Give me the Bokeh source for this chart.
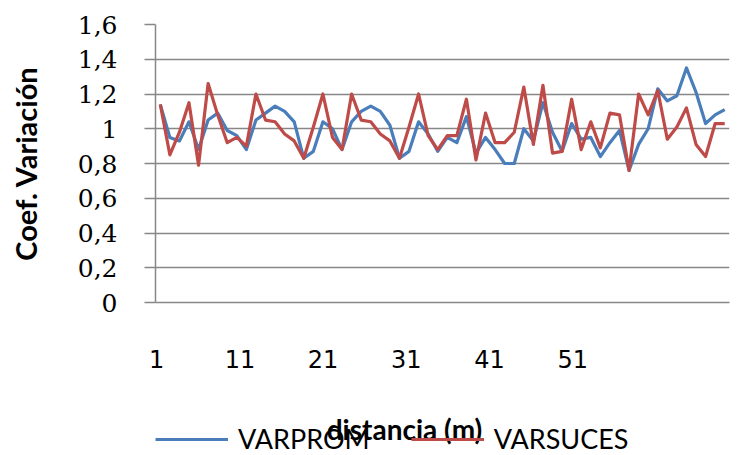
from bokeh.plotting import figure
from bokeh.layouts import column
from bokeh.models import (Range1d, LinearAxis, FixedTicker, Legend, LegendItem, Label)
from bokeh.embed import file_html
from bokeh.resources import INLINE

# ---------------- data ----------------
x_index = list(range(1, 61))
varprom = [1.14, 0.95, 0.93, 1.04, 0.88, 1.05, 1.09, 0.99, 0.96, 0.88,
           1.05, 1.09, 1.13, 1.10, 1.04, 0.83, 0.87, 1.04, 1.00, 0.88,
           1.04, 1.10, 1.13, 1.10, 1.02, 0.83, 0.87, 1.04, 0.97, 0.87,
           0.95, 0.92, 1.07, 0.86, 0.95, 0.88, 0.80, 0.80, 1.00, 0.93,
           1.15, 0.98, 0.87, 1.03, 0.94, 0.95, 0.84, 0.92, 0.99, 0.76,
           0.91, 1.00, 1.23, 1.16, 1.19, 1.35, 1.21, 1.03, 1.08, 1.11]
varsuces = [1.14, 0.85, 0.98, 1.15, 0.79, 1.26, 1.08, 0.92, 0.95, 0.90,
            1.20, 1.05, 1.04, 0.97, 0.93, 0.83, 1.01, 1.20, 0.95, 0.88,
            1.20, 1.05, 1.04, 0.97, 0.93, 0.83, 1.01, 1.20, 0.96, 0.88,
            0.96, 0.96, 1.17, 0.82, 1.09, 0.92, 0.92, 0.98, 1.24, 0.91,
            1.25, 0.86, 0.87, 1.17, 0.88, 1.04, 0.89, 1.09, 1.08, 0.76,
            1.20, 1.08, 1.22, 0.94, 1.01, 1.12, 0.91, 0.84, 1.03, 1.03]
series_names = ["VARPROM", "VARSUCES"]
y_ticks = [0, 0.2, 0.4, 0.6, 0.8, 1, 1.2, 1.4, 1.6]
y_tick_labels = ["0", "0,2", "0,4", "0,6", "0,8", "1", "1,2", "1,4", "1,6"]
x_ticks = [1, 11, 21, 31, 41, 51]
x_tick_labels = ["1", "11", "21", "31", "41", "51"]
label_categories = 69
x_title = "distancia (m)"
y_title = "Coef. Variación"

# ---------------- layout ----------------
W = 741
H1, H2 = 385, 70
B_LEFT, B_RIGHT, B_TOP, B_BOTTOM = 155, 12, 24, 83

GRID = "#878787"
BLUE = "#4A7EBB"
RED = "#BE4B48"

p = figure(width=W, height=H1, output_backend="svg", toolbar_location=None,
           x_range=Range1d(0.5, len(x_index) + 0.5),
           y_range=Range1d(y_ticks[0], y_ticks[-1]),
           x_axis_location=None)
p.min_border_left = B_LEFT
p.min_border_right = B_RIGHT
p.min_border_top = B_TOP
p.min_border_bottom = B_BOTTOM
p.outline_line_color = None
p.background_fill_color = "white"
p.border_fill_color = "white"

# y axis
ya = p.yaxis[0]
ya.ticker = FixedTicker(ticks=y_ticks)
ya.major_label_overrides = {t: l for t, l in zip(y_ticks, y_tick_labels)}
ya.axis_line_color = GRID
ya.axis_line_width = 1.5
ya.major_tick_line_color = GRID
ya.major_tick_line_width = 1.5
ya.major_tick_out = 11
ya.major_tick_in = 0
ya.minor_tick_line_color = None
ya.major_label_standoff = 27
ya.major_label_text_font = "DejaVu Serif"
ya.major_label_text_font_size = "25px"
ya.major_label_text_color = "black"
ya.axis_label = y_title
ya.axis_label_text_font = "Lato"
ya.axis_label_text_font_style = "bold"
ya.axis_label_text_font_size = "29px"
ya.axis_label_text_color = "black"
ya.axis_label_standoff = 32

p.ygrid.ticker = FixedTicker(ticks=y_ticks)
p.ygrid.grid_line_color = GRID
p.ygrid.grid_line_width = 1.5
p.xgrid.visible = False

# x axis labels on their own category scale
p.extra_x_ranges = {"labels": Range1d(0.85, label_categories + 0.85)}
xa = LinearAxis(x_range_name="labels", ticker=FixedTicker(ticks=x_ticks))
xa.major_label_overrides = {t: l for t, l in zip(x_ticks, x_tick_labels)}
xa.axis_line_color = GRID
xa.axis_line_width = 1.5
xa.major_tick_line_color = None
xa.minor_tick_line_color = None
xa.major_tick_out = 0
xa.major_tick_in = 0
xa.major_label_standoff = 47
xa.major_label_text_font = "DejaVu Sans"
xa.major_label_text_font_size = "24px"
xa.major_label_text_color = "black"
p.add_layout(xa, "below")

p.line(x_index, varprom, line_color=BLUE, line_width=3.2, line_join="round")
p.line(x_index, varsuces, line_color=RED, line_width=3.2, line_join="round")

# ---------------- legend strip with the x-axis title ----------------
# its frame is aligned with the chart frame; data units = page pixels
p2 = figure(width=W, height=H2, output_backend="svg", toolbar_location=None,
            x_range=Range1d(B_LEFT, W - B_RIGHT), y_range=Range1d(0, H2),
            x_axis_location=None, y_axis_location=None)
p2.min_border_left = B_LEFT
p2.min_border_right = B_RIGHT
p2.min_border_top = 0
p2.min_border_bottom = 0
p2.outline_line_color = None
p2.xgrid.visible = False
p2.ygrid.visible = False
p2.background_fill_color = "white"
p2.border_fill_color = "white"

k1 = p2.line(x_index, varprom, line_color=BLUE, line_width=3, visible=False)
k2 = p2.line(x_index, varsuces, line_color=RED, line_width=3, visible=False)

p2.add_layout(Label(x=404, y=27, text=x_title, text_align="center",
                    text_baseline="middle", text_font="Lato",
                    text_font_style="bold", text_font_size="28px",
                    text_color="black"))

legend = Legend(items=[LegendItem(label=series_names[0], renderers=[k1]),
                       LegendItem(label=series_names[1], renderers=[k2])],
                orientation="horizontal", location=(0, 0),
                glyph_width=73, glyph_height=20, label_standoff=10,
                spacing=41, padding=0, margin=0,
                border_line_color=None, background_fill_alpha=0,
                inactive_fill_alpha=0,
                label_text_font="Lato", label_text_font_size="27px",
                label_text_color="black")
p2.add_layout(legend)

open("out.html", "w").write(file_html(column(p, p2), INLINE))
